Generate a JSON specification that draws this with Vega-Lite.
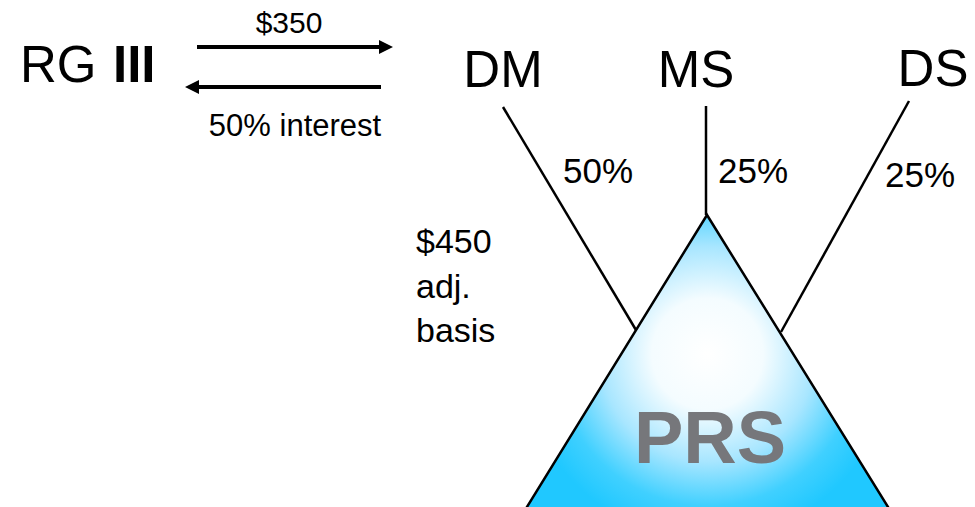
{
  "$schema": "https://vega.github.io/schema/vega-lite/v6.json",
  "width": 975,
  "height": 507,
  "padding": 0,
  "autosize": {"type": "fit", "contains": "padding"},
  "background": "white",
  "config": {"view": {"stroke": null}},
  "encoding": {
    "x": {"field": "x", "type": "quantitative", "scale": {"domain": [0, 975], "nice": false, "zero": false}, "axis": null},
    "y": {"field": "y", "type": "quantitative", "scale": {"domain": [0, 507], "nice": false, "zero": false, "reverse": true}, "axis": null}
  },
  "layer": [
    {
      "data": {"values": [{"x": 522, "y": 515}, {"x": 707, "y": 215}, {"x": 893, "y": 515}]},
      "mark": {
        "type": "area",
        "clip": true,
        "stroke": "black",
        "strokeWidth": 2.5,
        "fill": {
          "gradient": "radial",
          "x1": 0.5, "y1": 0.47, "r1": 0,
          "x2": 0.5, "y2": 0.47, "r2": 0.5,
          "stops": [
            {"offset": 0, "color": "#ffffff"},
            {"offset": 0.3, "color": "#f4fcff"},
            {"offset": 0.58, "color": "#a8e6ff"},
            {"offset": 0.82, "color": "#40d0ff"},
            {"offset": 1, "color": "#20c8ff"}
          ]
        },
        "fillOpacity": 1
      },
      "encoding": {"y2": {"datum": 515}}
    },
    {
      "data": {"values": [
        {"x": 503, "y": 107, "x2": 636, "y2": 330},
        {"x": 706, "y": 106, "x2": 706, "y2": 215},
        {"x": 909, "y": 101, "x2": 781, "y2": 332}
      ]},
      "mark": {"type": "rule", "color": "black", "strokeWidth": 2.5},
      "encoding": {"x2": {"field": "x2"}, "y2": {"field": "y2"}}
    },
    {
      "data": {"values": [
        {"x": 197, "y": 47, "x2": 387, "y2": 47},
        {"x": 381, "y": 87, "x2": 191, "y2": 87}
      ]},
      "mark": {"type": "rule", "color": "black", "strokeWidth": 4},
      "encoding": {"x2": {"field": "x2"}, "y2": {"field": "y2"}}
    },
    {
      "data": {"values": [{"x": 386, "y": 47}]},
      "mark": {"type": "point", "shape": "M-1,-1L1,0L-1,1Z", "size": 196, "filled": true, "color": "black", "opacity": 1, "strokeWidth": 0}
    },
    {
      "data": {"values": [{"x": 192, "y": 87}]},
      "mark": {"type": "point", "shape": "M1,-1L-1,0L1,1Z", "size": 196, "filled": true, "color": "black", "opacity": 1, "strokeWidth": 0}
    },
    {
      "data": {"values": [{"x": 20, "y": 82, "label": "RG"}]},
      "mark": {"type": "text", "font": "Liberation Sans", "fontSize": 51, "align": "left", "baseline": "alphabetic", "color": "black"},
      "encoding": {"text": {"field": "label"}}
    },
    {
      "data": {"values": [{"x": 113, "y": 82, "label": "III"}]},
      "mark": {"type": "text", "font": "Liberation Sans", "fontSize": 51, "fontWeight": "bold", "align": "left", "baseline": "alphabetic", "color": "black"},
      "encoding": {"text": {"field": "label"}}
    },
    {
      "data": {"values": [
        {"x": 503, "y": 87, "label": "DM"},
        {"x": 696, "y": 87, "label": "MS"},
        {"x": 933, "y": 86, "label": "DS"}
      ]},
      "mark": {"type": "text", "font": "Liberation Sans", "fontSize": 51, "align": "center", "baseline": "alphabetic", "color": "black"},
      "encoding": {"text": {"field": "label"}}
    },
    {
      "data": {"values": [
        {"x": 598, "y": 183, "label": "50%"},
        {"x": 753, "y": 183, "label": "25%"},
        {"x": 920, "y": 187, "label": "25%"}
      ]},
      "mark": {"type": "text", "font": "Liberation Sans", "fontSize": 35, "align": "center", "baseline": "alphabetic", "color": "black"},
      "encoding": {"text": {"field": "label"}}
    },
    {
      "data": {"values": [{"x": 289, "y": 33, "label": "$350"}]},
      "mark": {"type": "text", "font": "Liberation Sans", "fontSize": 30, "align": "center", "baseline": "alphabetic", "color": "black"},
      "encoding": {"text": {"field": "label"}}
    },
    {
      "data": {"values": [{"x": 295, "y": 136, "label": "50% interest"}]},
      "mark": {"type": "text", "font": "Liberation Sans", "fontSize": 31, "align": "center", "baseline": "alphabetic", "color": "black"},
      "encoding": {"text": {"field": "label"}}
    },
    {
      "data": {"values": [
        {"x": 416, "y": 253, "label": "$450"},
        {"x": 416, "y": 298, "label": "adj."},
        {"x": 416, "y": 342, "label": "basis"}
      ]},
      "mark": {"type": "text", "font": "Liberation Sans", "fontSize": 34, "align": "left", "baseline": "alphabetic", "color": "black"},
      "encoding": {"text": {"field": "label"}}
    },
    {
      "data": {"values": [{"x": 710, "y": 463, "label": "PRS"}]},
      "mark": {"type": "text", "font": "Liberation Sans", "fontSize": 74, "fontWeight": "bold", "align": "center", "baseline": "alphabetic", "color": "#76777b"},
      "encoding": {"text": {"field": "label"}}
    }
  ]
}
